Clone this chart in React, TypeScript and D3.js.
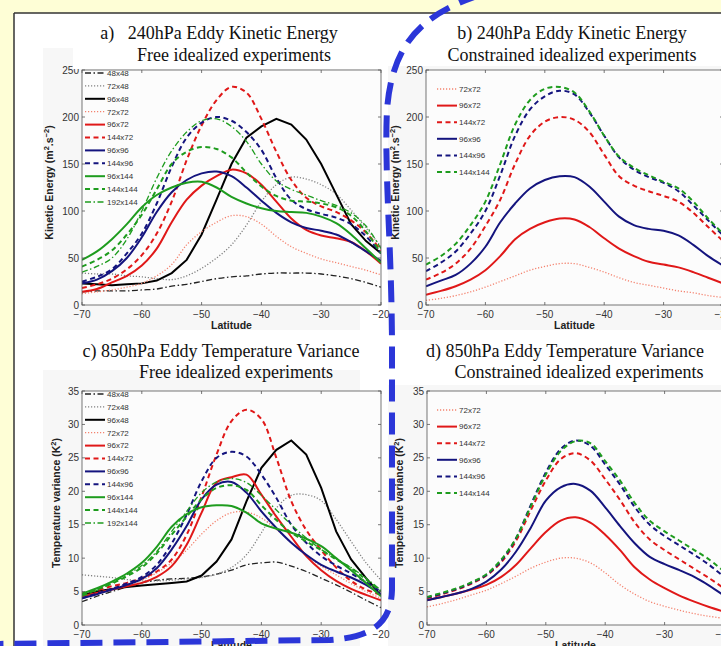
import React from "react";
import * as d3 from "d3";

const W = 721;
const H = 646;

// latitude grid shared by all curves
const lats = [-70, -67.5, -65, -62.5, -60, -57.5, -55, -52.5, -50, -47.5, -45, -42.5, -40, -37.5, -35, -32.5, -30, -27.5, -25, -22.5, -20];
const xTicks = [-70, -60, -50, -40, -30, -20];
const keTicks = [0, 50, 100, 150, 200, 250];
const tvTicks = [0, 5, 10, 15, 20, 25, 30, 35];

// a) 240hPa eddy kinetic energy, free experiments
const keFree48x48 = [14, 15, 15, 15, 16, 17, 20, 22, 25, 28, 30, 31, 33, 34, 34, 34, 33, 31, 28, 24, 19];
const keFree72x48 = [34, 33, 33, 31, 30, 28, 27, 31, 39, 50, 64, 85, 110, 128, 136, 134, 128, 118, 101, 82, 62];
const keFree96x48 = [23, 22, 21, 22, 23, 26, 34, 48, 75, 112, 150, 178, 190, 198, 192, 176, 150, 118, 86, 68, 55];
const keFree72x72 = [12, 14, 16, 19, 23, 31, 43, 64, 78, 88, 95, 94, 86, 73, 62, 55, 49, 45, 41, 37, 32];
const keFree96x72 = [14, 17, 24, 31, 42, 60, 88, 112, 127, 137, 144, 140, 128, 110, 92, 80, 74, 71, 67, 57, 44];
const keFree144x72 = [18, 22, 28, 38, 53, 76, 110, 154, 191, 218, 232, 226, 198, 163, 133, 114, 105, 99, 90, 77, 58];
const keFree96x96 = [23, 27, 36, 50, 72, 99, 120, 133, 140, 142, 137, 125, 111, 98, 88, 82, 79, 75, 67, 57, 47];
const keFree144x96 = [25, 30, 38, 55, 76, 108, 147, 178, 194, 200, 196, 184, 165, 135, 112, 102, 97, 93, 86, 73, 55];
const keFree96x144 = [48, 57, 70, 86, 104, 117, 125, 130, 131, 125, 115, 108, 103, 100, 99, 98, 94, 87, 75, 60, 45];
const keFree144x144 = [41, 48, 58, 75, 96, 123, 150, 163, 168, 166, 157, 141, 126, 116, 111, 110, 108, 104, 95, 78, 55];
const keFree192x144 = [35, 41, 50, 70, 100, 135, 164, 184, 196, 198, 190, 174, 150, 132, 123, 117, 111, 106, 98, 84, 60];

// b) 240hPa eddy kinetic energy, constrained experiments
const keCon72x72 = [5, 7, 10, 14, 19, 25, 31, 37, 41, 44, 44, 40, 35, 29, 24, 21, 18, 15, 13, 10, 8];
const keCon96x72 = [11, 15, 20, 27, 37, 52, 70, 81, 88, 92, 91, 83, 71, 60, 52, 46, 43, 40, 35, 29, 23];
const keCon144x72 = [27, 34, 44, 60, 84, 112, 150, 180, 195, 200, 197, 184, 160, 137, 127, 121, 116, 110, 98, 83, 68];
const keCon96x96 = [20, 26, 32, 44, 62, 88, 108, 124, 133, 137, 136, 126, 110, 94, 85, 81, 79, 74, 64, 52, 42];
const keCon144x96 = [36, 45, 57, 76, 100, 138, 180, 208, 222, 228, 224, 205, 180, 157, 144, 136, 130, 121, 106, 90, 74];
const keCon144x144 = [43, 52, 65, 85, 110, 150, 192, 218, 230, 232, 226, 206, 180, 158, 146, 138, 131, 124, 110, 92, 76];

// c) 850hPa eddy temperature variance, free experiments
const tvFree48x48 = [3.5, 4.3, 5.0, 5.7, 6.3, 6.7, 6.9, 7.0, 7.2, 7.6, 8.2, 9.0, 9.3, 9.4, 8.8, 8.0, 7.0, 6.0, 4.9, 3.7, 2.6];
const tvFree72x48 = [7.5, 7.3, 7.1, 6.8, 6.6, 6.6, 6.7, 6.9, 7.1, 7.6, 8.6, 10.5, 13.8, 17.5, 19.4, 19.5, 18.6, 15.8, 12.5, 9.3, 6.7];
const tvFree96x48 = [4.5, 5.0, 5.4, 5.7, 5.9, 6.1, 6.3, 6.5, 7.4, 9.5, 12.8, 18.5, 23.5, 26.2, 27.6, 25.5, 20.5, 14.0, 9.8, 7.0, 4.5];
const tvFree72x72 = [4.3, 4.8, 5.3, 5.9, 6.7, 7.8, 9.3, 11.2, 13.6, 15.6, 16.8, 16.9, 16.0, 14.3, 12.3, 10.4, 8.8, 7.5, 6.2, 5.0, 4.0];
const tvFree96x72 = [4.3, 4.8, 5.3, 5.8, 6.3, 7.2, 8.8, 12.0, 16.8, 21.3, 22.1, 22.5, 19.5, 16.2, 13.2, 10.3, 8.2, 6.6, 5.4, 4.5, 3.7];
const tvFree144x72 = [4.7, 5.2, 5.8, 6.3, 7.0, 8.0, 9.8, 13.5, 19.2, 25.5, 30.5, 32.2, 30.8, 25.0, 18.5, 14.2, 11.2, 8.6, 6.6, 5.3, 4.5];
const tvFree96x96 = [4.0, 4.6, 5.3, 6.0, 6.9, 8.5, 11.3, 14.8, 18.8, 21.0, 21.4, 19.8, 17.0, 14.5, 12.3, 10.5, 9.0, 8.0, 7.1, 6.0, 4.6];
const tvFree144x96 = [4.0, 4.7, 5.4, 6.2, 7.2, 9.0, 12.2, 16.5, 21.5, 25.0, 25.9, 25.2, 22.5, 19.0, 15.0, 12.3, 10.3, 8.9, 7.7, 6.4, 5.0];
const tvFree96x144 = [4.7, 5.5, 6.5, 7.7, 9.3, 11.7, 14.7, 16.6, 17.6, 17.9, 17.8, 16.8, 15.2, 14.4, 13.8, 12.9, 11.8, 10.0, 8.2, 6.3, 4.3];
const tvFree144x144 = [4.5, 5.3, 6.2, 7.3, 8.6, 10.7, 13.5, 16.2, 18.8, 20.5, 20.9, 20.2, 17.9, 15.7, 13.8, 12.5, 11.2, 9.8, 8.5, 6.8, 5.0];
const tvFree192x144 = [4.3, 5.2, 6.3, 7.5, 8.9, 11.0, 14.0, 17.0, 19.8, 21.4, 21.9, 21.3, 19.4, 17.2, 15.0, 13.0, 11.3, 9.9, 8.6, 7.0, 5.2];

// d) 850hPa eddy temperature variance, constrained experiments
const tvCon72x72 = [2.7, 3.2, 3.8, 4.5, 5.2, 6.2, 7.3, 8.5, 9.4, 10.0, 10.0, 9.3, 7.8, 6.0, 4.6, 3.5, 2.8, 2.2, 1.7, 1.3, 1.0];
const tvCon96x72 = [3.7, 4.2, 4.7, 5.3, 6.0, 7.2, 9.0, 11.5, 13.9, 15.6, 16.1, 15.3, 13.5, 11.2, 8.6, 6.8, 5.5, 4.4, 3.5, 2.7, 2.0];
const tvCon144x72 = [4.0, 4.6, 5.3, 6.2, 7.4, 9.4, 12.6, 17.2, 21.6, 24.8, 25.7, 24.6, 21.8, 18.7, 15.3, 12.8, 11.2, 9.8, 8.4, 7.0, 5.5];
const tvCon96x96 = [3.7, 4.2, 4.7, 5.4, 6.5, 8.3, 11.0, 14.6, 18.6, 20.6, 21.1, 20.1, 17.6, 14.8, 12.2, 10.2, 9.1, 8.2, 7.2, 5.9, 4.4];
const tvCon144x96 = [4.1, 4.7, 5.4, 6.3, 7.5, 9.6, 13.0, 18.0, 22.8, 26.3, 27.6, 26.8, 24.0, 21.0, 17.6, 15.0, 13.3, 11.9, 10.5, 9.0, 7.2];
const tvCon144x144 = [4.2, 4.8, 5.5, 6.4, 7.6, 9.8, 13.0, 17.8, 22.5, 26.0, 27.5, 27.2, 24.5, 21.6, 18.2, 15.6, 14.0, 12.6, 11.2, 9.8, 8.0];

const freeNames = ["48x48", "72x48", "96x48", "72x72", "96x72", "144x72", "96x96", "144x96", "96x144", "144x144", "192x144"];
const conNames = ["72x72", "96x72", "144x72", "96x96", "144x96", "144x144"];

const styles: Record<string, { color: string; width: number; dash?: string; linear?: boolean }> = {
  "48x48": { color: "#222", width: 1.3, dash: "6 2.5 1.5 2.5" },
  "72x48": { color: "#808080", width: 1.3, dash: "1.2 1.8" },
  "96x48": { color: "#000", width: 2, linear: true },
  "72x72": { color: "#f4826e", width: 1.3, dash: "1.2 1.8" },
  "96x72": { color: "#e01818", width: 2 },
  "144x72": { color: "#e01818", width: 2, dash: "5 3.5" },
  "96x96": { color: "#14147e", width: 2 },
  "144x96": { color: "#14147e", width: 2, dash: "5 3.5" },
  "96x144": { color: "#1e9c1e", width: 2 },
  "144x144": { color: "#1e9c1e", width: 2, dash: "5 3.5" },
  "192x144": { color: "#1e9c1e", width: 1.3, dash: "6 2.5 1.5 2.5" },
};

const panels = [
  {
    id: "a", left: 82, right: 381, top: 70, bottom: 305, yMax: 250, yTicks: keTicks, kind: "ke",
    t1: "a)   240hPa Eddy Kinetic Energy", t2: "Free idealized experiments", t1x: 219, t2x: 234, t1y: 39, t2y: 61,
    labX: 53, legX: 85, legY: 73, legStep: 12.9, names: freeNames,
    values: [keFree48x48, keFree72x48, keFree96x48, keFree72x72, keFree96x72, keFree144x72, keFree96x96, keFree144x96, keFree96x144, keFree144x144, keFree192x144],
  },
  {
    id: "b", left: 426, right: 723, top: 70, bottom: 305, yMax: 250, yTicks: keTicks, kind: "ke",
    t1: "b) 240hPa Eddy Kinetic Energy", t2: "Constrained idealized experiments", t1x: 572, t2x: 572, t1y: 39, t2y: 61,
    labX: 399, legX: 437, legY: 89, legStep: 16.6, names: conNames,
    values: [keCon72x72, keCon96x72, keCon144x72, keCon96x96, keCon144x96, keCon144x144],
  },
  {
    id: "c", left: 82, right: 381, top: 391, bottom: 625, yMax: 35, yTicks: tvTicks, kind: "tv",
    t1: "c) 850hPa Eddy Temperature Variance", t2: "Free idealized experiments", t1x: 221, t2x: 236, t1y: 357, t2y: 378,
    labX: 60, legX: 85, legY: 394, legStep: 12.9, names: freeNames,
    values: [tvFree48x48, tvFree72x48, tvFree96x48, tvFree72x72, tvFree96x72, tvFree144x72, tvFree96x96, tvFree144x96, tvFree96x144, tvFree144x144, tvFree192x144],
  },
  {
    id: "d", left: 427, right: 724, top: 391, bottom: 625, yMax: 35, yTicks: tvTicks, kind: "tv",
    t1: "d) 850hPa Eddy Temperature Variance", t2: "Constrained idealized experiments", t1x: 565, t2x: 579, t1y: 357, t2y: 378,
    labX: 403, legX: 437, legY: 410, legStep: 16.6, names: conNames,
    values: [tvCon72x72, tvCon96x72, tvCon144x72, tvCon96x96, tvCon144x96, tvCon144x144],
  },
];

const sans = "'Liberation Sans', Arial, sans-serif";
const serif = "'Liberation Serif', 'Times New Roman', serif";

function Panel({ p }: { p: (typeof panels)[number] }) {
  const x = d3.scaleLinear().domain([-70, -20]).range([p.left, p.right]);
  const y = d3.scaleLinear().domain([0, p.yMax]).range([p.bottom, p.top]);
  const midY = (p.top + p.bottom) / 2;
  return (
    <g>
      <clipPath id={"clip" + p.id}>
        <rect x={p.left} y={p.top} width={p.right - p.left} height={p.bottom - p.top} />
      </clipPath>
      <rect x={p.left} y={p.top} width={p.right - p.left} height={p.bottom - p.top} fill="#fcfcfc" />
      <g clipPath={`url(#clip${p.id})`}>
        {p.names.map((n, i) => {
          const s = styles[n];
          const line = d3
            .line<number>()
            .x((_, j) => x(lats[j]))
            .y((v) => y(v))
            .curve(s.linear ? d3.curveLinear : d3.curveCatmullRom);
          return (
            <path key={n} d={line(p.values[i]) || ""} fill="none" stroke={s.color} strokeWidth={s.width} strokeDasharray={s.dash} />
          );
        })}
      </g>
      {/* axes box */}
      <rect x={p.left} y={p.top} width={p.right - p.left} height={p.bottom - p.top} fill="none" stroke="#555" strokeWidth={0.8} />
      {xTicks.map((t) => (
        <g key={"x" + t}>
          <line x1={x(t)} x2={x(t)} y1={p.bottom} y2={p.bottom - 3} stroke="#555" strokeWidth={0.8} />
          <line x1={x(t)} x2={x(t)} y1={p.top} y2={p.top + 3} stroke="#555" strokeWidth={0.8} />
          <text x={x(t)} y={p.bottom + 13} textAnchor="middle" fontFamily={sans} fontSize={10} fill="#333">
            {"\u2212" + Math.abs(t)}
          </text>
        </g>
      ))}
      {p.yTicks.map((t) => (
        <g key={"y" + t}>
          <line x1={p.left} x2={p.left + 3} y1={y(t)} y2={y(t)} stroke="#555" strokeWidth={0.8} />
          <line x1={p.right} x2={p.right - 3} y1={y(t)} y2={y(t)} stroke="#555" strokeWidth={0.8} />
          <text x={p.left - 3} y={y(t)} dy="0.35em" textAnchor="end" fontFamily={sans} fontSize={10} fill="#333">
            {t}
          </text>
        </g>
      ))}
      <text x={(p.left + p.right) / 2} y={p.bottom + 24} textAnchor="middle" fontFamily={sans} fontSize={10.5} fontWeight="bold" fill="#222">
        Latitude
      </text>
      <text transform={`translate(${p.labX},${midY - 5}) rotate(-90)`} textAnchor="middle" fontFamily={sans} fontSize={10.5} fontWeight="bold" fill="#222">
        {p.kind === "ke" ? (
          <>
            Kinetic Energy (m<tspan dy={-4} fontSize={7.5}>2</tspan>
            <tspan dy={4}>.s</tspan>
            <tspan dy={-4} fontSize={7.5}>−2</tspan>
            <tspan dy={4}>)</tspan>
          </>
        ) : (
          <>
            Temperature variance (K<tspan dy={-4} fontSize={7.5}>2</tspan>
            <tspan dy={4}>)</tspan>
          </>
        )}
      </text>
      {/* legend */}
      {p.names.map((n, i) => {
        const s = styles[n];
        const ly = p.legY + i * p.legStep;
        return (
          <g key={"l" + n}>
            <line x1={p.legX} x2={p.legX + 20} y1={ly} y2={ly} stroke={s.color} strokeWidth={s.width} strokeDasharray={s.dash} />
            <text x={p.legX + 22} y={ly} dy="0.35em" fontFamily={sans} fontSize={8} fill="#333">
              {n}
            </text>
          </g>
        );
      })}
      {p.id === "a" && <rect x={73} y={14} width={287} height={55} fill="#fff" />}
      <text x={p.t1x} y={p.t1y} textAnchor="middle" fontFamily={serif} fontSize={18} fill="#111" style={{ whiteSpace: "pre" }}>
        {p.t1}
      </text>
      <text x={p.t2x} y={p.t2y} textAnchor="middle" fontFamily={serif} fontSize={18} fill="#111">
        {p.t2}
      </text>
    </g>
  );
}

export default function App() {
  return (
    <svg width={W} height={H} style={{ position: "absolute", left: 0, top: 0 }}>
      <rect x={0} y={0} width={W} height={H} fill="#fefed6" />
      <rect x={14} y={13} width={W - 14} height={H - 13} fill="#fff" />
      <rect x={43} y={48} width={317} height={282} fill="#f7f7f7" />
      <rect x={388} y={66} width={333} height={264} fill="#f7f7f7" />
      <rect x={43} y={370} width={317} height={276} fill="#f7f7f7" />
      <rect x={388} y={385} width={333} height={261} fill="#f7f7f7" />
      <line x1={14} x2={W} y1={13} y2={13} stroke="#333" strokeWidth={1.5} />
      <line x1={14} x2={14} y1={13} y2={H} stroke="#333" strokeWidth={1.5} />
      {panels.map((p) => (
        <Panel key={p.id} p={p} />
      ))}
      {/* blue dashed annotation curve */}
      <path
        d="M 480 -5 C 420 15, 392 45, 387 110 C 384 170, 392 250, 392 350 L 392 590 C 391 625, 370 637, 330 640 L -10 644"
        fill="none"
        stroke="#2b36d8"
        strokeWidth={6}
        strokeDasharray="22 11"
      />
    </svg>
  );
}
